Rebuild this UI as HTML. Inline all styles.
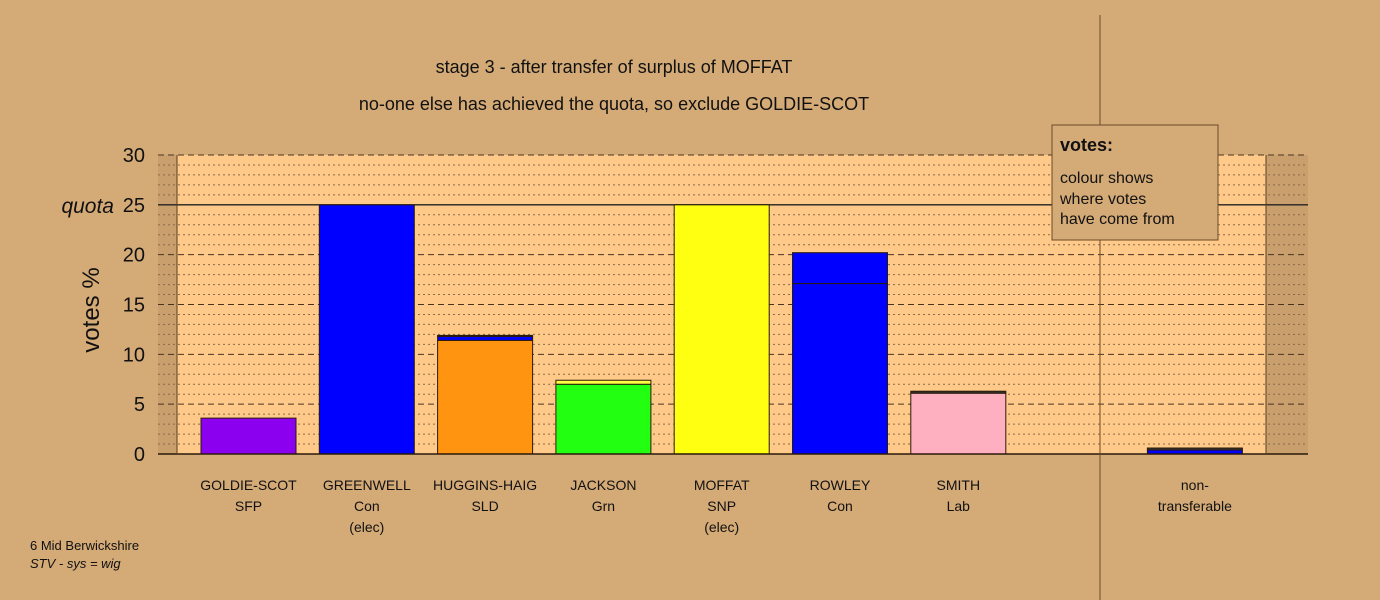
<!DOCTYPE html>
<html><head><meta charset="utf-8"><style>
html,body{margin:0;padding:0;background:#D4AA77;}
svg{display:block;font-family:"Liberation Sans",sans-serif;}
</style></head><body>
<svg id="chart" width="1380" height="600" viewBox="0 0 1380 600" xmlns="http://www.w3.org/2000/svg">
<rect x="0" y="0" width="1380" height="600" fill="#D4AA77"/>
<rect x="158" y="155" width="19" height="299" fill="#C99F6E"/>
<rect x="1266" y="155" width="42" height="299" fill="#C99F6E"/>
<rect x="177" y="155" width="1089" height="299" fill="#FFC98A"/>
<g id="grid"></g>
<g id="bars"></g>
<g id="axis"></g>
<line x1="177" y1="155" x2="177" y2="454" stroke="#5a3d1e" stroke-width="1"/>
<line x1="1266" y1="155" x2="1266" y2="454" stroke="#5a3d1e" stroke-width="1"/>
<line x1="1100" y1="15" x2="1100" y2="600" stroke="#6b4a28" stroke-width="1"/>
<text x="614" y="73" font-size="18" text-anchor="middle" fill="#111">stage 3 - after transfer of surplus of MOFFAT</text>
<text x="614" y="110" font-size="18" text-anchor="middle" fill="#111">no-one else has achieved the quota, so exclude GOLDIE-SCOT</text>
<text transform="translate(99,310) rotate(-90)" font-size="24" text-anchor="middle" fill="#111">votes %</text>
<text x="114" y="213" font-size="21" font-style="italic" text-anchor="end" fill="#111">quota</text>
<g>
<rect x="1052" y="125" width="166" height="115" fill="#D4AA77" stroke="#6b4a28" stroke-width="1"/>
<text x="1060" y="151" font-size="18" font-weight="bold" fill="#111">votes:</text>
<text x="1060" y="183" font-size="16" fill="#111">colour shows</text>
<text x="1060" y="204" font-size="16" fill="#111">where votes</text>
<text x="1060" y="224" font-size="16" fill="#111">have come from</text>
</g>
<text x="30" y="550" font-size="13" fill="#111">6 Mid Berwickshire</text>
<text x="30" y="568" font-size="13" font-style="italic" fill="#111">STV - sys = wig</text>
<g id="labels"></g>
</svg>
<script>
const categories = ["GOLDIE-SCOT","GREENWELL","HUGGINS-HAIG","JACKSON","MOFFAT","ROWLEY","SMITH","","non-"];
const subLabels = ["SFP","Con","SLD","Grn","SNP","Con","Lab","","transferable"];
const notes = ["","(elec)","","","(elec)","","","",""];
// stacked segments per bar: cumulative tops
const segTops = [[3.6],[25],[11.4,11.8,11.9],[7.0,7.4],[25],[17.1,20.2],[6.1,6.3],[],[0.4,0.6]];
const segColors = [["#8B00EE"],["#0000FF"],["#FF9410","#0000FF","#332266"],["#22FF11","#FFFF44"],["#FFFF11"],["#0000FF","#0000FF"],["#FFB0C0","#333333"],[],["#0000FF","#333333"]];
const yTicks = [0,5,10,15,20,25,30];
const quota = 25;

const NS="http://www.w3.org/2000/svg";
const y0=454, yTop=155, yMax=30;
function y(v){return y0-(v/yMax)*(y0-yTop);}
function xc(i){return 248.5+i*118.3;}
const barW=95;
function mk(tag,attrs,parent){const e=document.createElementNS(NS,tag);for(const k in attrs)e.setAttribute(k,attrs[k]);parent.appendChild(e);return e;}

const grid=document.getElementById('grid');
for(let v=1;v<yMax;v++){
  if(v%5===0) continue;
  const l=mk('line',{x1:158,x2:1308,y1:y(v),y2:y(v),stroke:'#8a6a48','stroke-width':1,'stroke-dasharray':'2,3'},grid);
  
  
}
yTicks.forEach(v=>{
  if(v===0) return;
  const solid=(v===quota);
  const l=mk('line',{x1:158,x2:1308,y1:y(v),y2:y(v),stroke:solid?'#222':'#4a3420','stroke-width':solid?1.3:1,'stroke-dasharray':solid?'none':'6,4'},grid);
  
  
});

const bars=document.getElementById('bars');
segTops.forEach((tops,i)=>{
  let prev=0;
  tops.forEach((t,j)=>{
    const r=mk('rect',{x:xc(i)-barW/2,y:y(t),width:barW,height:y(prev)-y(t),fill:segColors[i][j],stroke:'#2a1a0a','stroke-width':1},bars);
    
    
    prev=t;
  });
});

const axis=document.getElementById('axis');
mk('line',{x1:158,x2:1308,y1:y0,y2:y0,stroke:'#2a1a0a','stroke-width':1.5},axis);
yTicks.forEach(v=>{
  const t=mk('text',{x:145,y:y(v)+7,'font-size':20,'text-anchor':'end',fill:'#111'},axis);
  t.textContent=String(v);
  
  
});

const labels=document.getElementById('labels');
categories.forEach((c,i)=>{
  const lines=[c,subLabels[i],notes[i]];
  lines.forEach((s,k)=>{
    if(!s) return;
    const t=mk('text',{x:xc(i),y:490+k*21,'font-size':14,'text-anchor':'middle',fill:'#111'},labels);
    t.textContent=s;
    
    
  });
});
</script>
</body></html>
